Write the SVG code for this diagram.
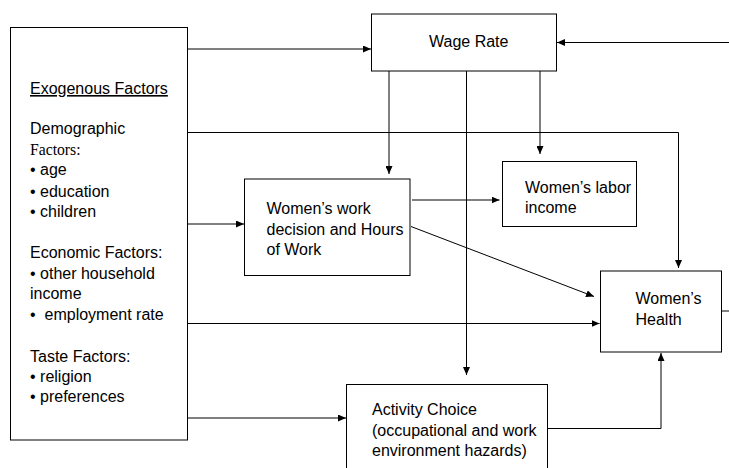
<svg xmlns="http://www.w3.org/2000/svg" width="729" height="468" viewBox="0 0 729 468">
<style>
.box{fill:#fff;stroke:#000;stroke-width:1}
.t{font-family:"Liberation Sans",Arial,sans-serif;font-size:16px;fill:#000}
.s{font-family:"Liberation Serif","Times New Roman",serif;font-size:15.7px;fill:#000}
.c{fill:none;stroke:#000;stroke-width:1}
</style>
<defs>
<marker id="ah" markerUnits="userSpaceOnUse" markerWidth="9" markerHeight="7" refX="8" refY="3.5" orient="auto">
<path d="M0,0 L8,3.5 L0,7 z" fill="#000"/>
</marker>
</defs>
<rect width="729" height="468" fill="#fff"/>
<g id="exogenous">
<rect class="box" x="10.5" y="27.5" width="177" height="412.5"/>
<text class="t" x="30" y="94" text-decoration="underline">Exogenous Factors</text>
<text class="t" x="30" y="134">Demographic</text>
<text class="s" x="30" y="154.5">Factors:</text>
<text class="t" x="30" y="175">• age</text>
<text class="t" x="30" y="196.5">• education</text>
<text class="t" x="30" y="216.5">• children</text>
<text class="t" x="30" y="258">Economic Factors:</text>
<text class="t" x="30" y="279">• other household</text>
<text class="t" x="30" y="299">income</text>
<text class="t" x="30" y="319.5">•<tspan x="44.5">employment rate</tspan></text>
<text class="t" x="30" y="361.5">Taste Factors:</text>
<text class="t" x="30" y="381.5">• religion</text>
<text class="t" x="30" y="401.5">• preferences</text>
</g>
<g id="wage">
<rect class="box" x="371.5" y="14" width="185" height="57"/>
<text class="t" x="429" y="47">Wage Rate</text>
</g>
<g id="work">
<rect class="box" x="244.5" y="179" width="165.5" height="96.5"/>
<text class="t" x="266.5" y="214">Women’s work</text>
<text class="t" x="266.5" y="234.5">decision and Hours</text>
<text class="t" x="266.5" y="254.5">of Work</text>
</g>
<g id="labor">
<rect class="box" x="502.5" y="161.5" width="134" height="65"/>
<text class="t" x="525" y="192.5">Women’s labor</text>
<text class="t" x="525" y="212.5">income</text>
</g>
<g id="health">
<rect class="box" x="600.5" y="271" width="121" height="81"/>
<text class="t" x="635.5" y="304">Women’s</text>
<text class="t" x="635.5" y="325">Health</text>
</g>
<g id="activity">
<rect class="box" x="346.5" y="384.5" width="201" height="100"/>
<text class="t" x="372" y="415">Activity Choice</text>
<text class="t" x="372" y="435.5">(occupational and work</text>
<text class="t" x="372" y="456">environment hazards)</text>
</g>
<g id="connectors">
<path class="c" d="M188,49 H371" marker-end="url(#ah)"/>
<path class="c" d="M729,42.5 H557" marker-end="url(#ah)"/>
<path class="c" d="M389,71 V174" marker-end="url(#ah)"/>
<path class="c" d="M540,71 V154" marker-end="url(#ah)"/>
<path class="c" d="M466.5,71 V375" marker-end="url(#ah)"/>
<path class="c" d="M188,132.5 H678.5 V268" marker-end="url(#ah)"/>
<path class="c" d="M188,224 H244" marker-end="url(#ah)"/>
<path class="c" d="M412,200 H499.5" marker-end="url(#ah)"/>
<path class="c" d="M411,226.5 L594,296.5" marker-end="url(#ah)"/>
<path class="c" d="M188,323.5 H599.5" marker-end="url(#ah)"/>
<path class="c" d="M188,418 H346" marker-end="url(#ah)"/>
<path class="c" d="M547.5,428.5 H661 V353" marker-end="url(#ah)"/>
<path class="c" d="M721.5,311 H729"/>
</g>
</svg>
